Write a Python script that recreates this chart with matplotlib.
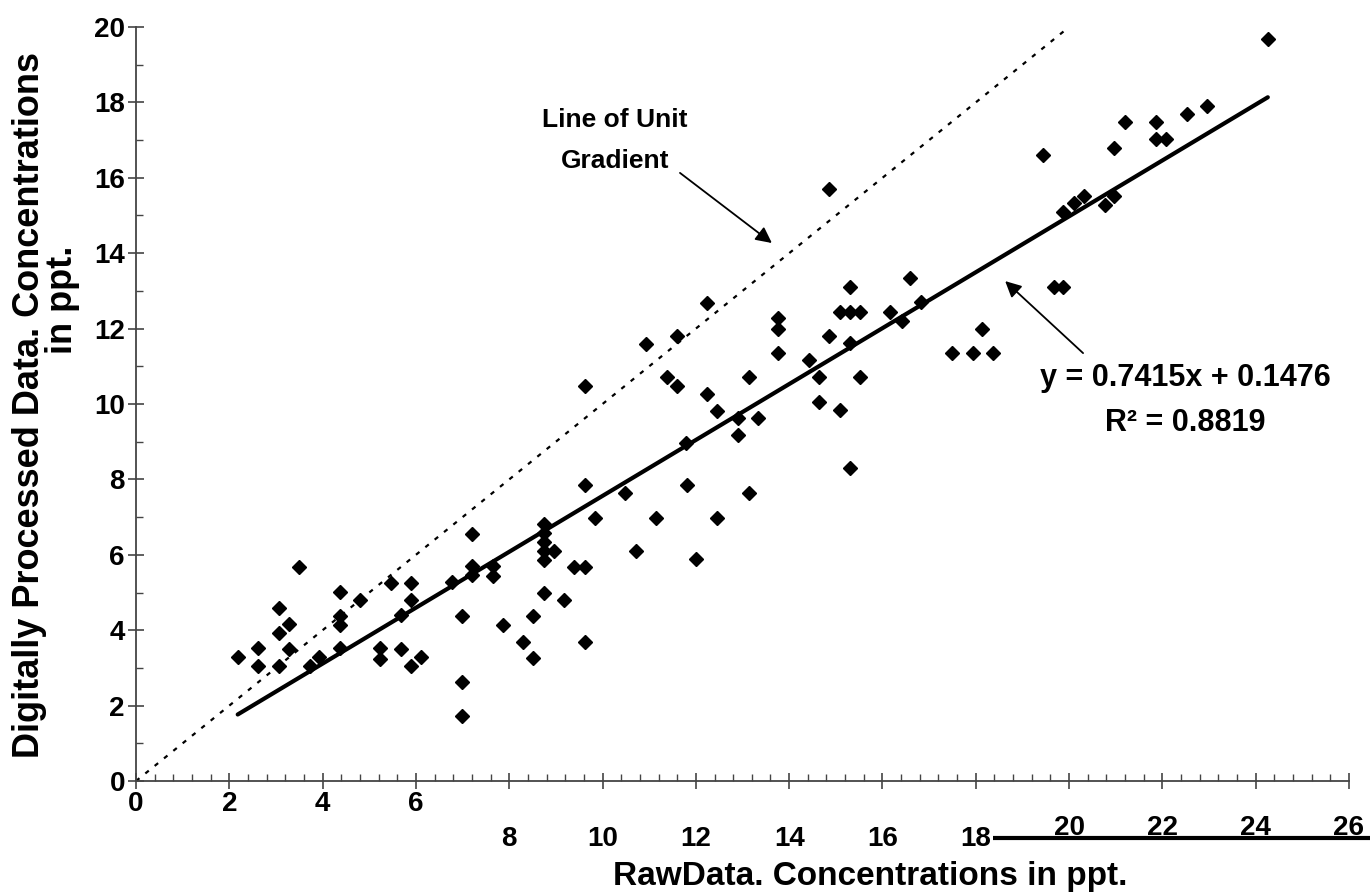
import matplotlib.pyplot as plt
from matplotlib.ticker import MultipleLocator

# raw vs digitally processed concentrations (ppt)
raw_x = [2.18, 2.62, 2.62, 3.06, 3.06, 3.06, 3.29, 3.29, 3.49, 3.72, 3.92,
         4.37, 4.37, 4.37, 4.37, 4.80, 5.24, 5.24, 5.46, 5.67, 5.67, 5.90,
         5.90, 5.90, 6.11, 6.78,
         6.98, 6.98, 6.98, 7.20, 7.20, 7.20, 7.65, 7.65, 7.87, 8.30, 8.52,
         8.52, 8.75, 8.75, 8.75, 8.75, 8.75, 8.96, 8.75, 9.17, 9.39, 9.62,
         9.62, 9.62, 9.84, 10.48, 10.71, 11.15, 11.80, 12.00, 9.62,
         10.93, 11.59, 12.23, 11.38, 11.59, 12.23, 12.45, 11.79, 13.13, 12.91,
         12.91, 13.34, 13.77, 13.77, 13.77, 13.13, 12.45, 14.43, 14.64, 14.64,
         14.86, 15.08, 15.31, 15.08, 15.31, 15.52, 15.31, 15.52, 15.31, 14.85,
         16.60, 16.16, 16.41, 16.82, 18.14, 17.50, 17.93, 18.36, 19.45, 21.20,
         20.97, 21.86, 21.86, 22.07, 22.52, 22.95, 24.26, 19.88, 20.10, 20.33,
         20.76, 20.97, 19.67, 19.88]
proc_y = [3.28, 3.52, 3.06, 4.58, 3.92, 3.06, 4.16, 3.51, 5.68, 3.06, 3.30,
          5.02, 4.38, 4.14, 3.52, 4.80, 3.52, 3.24, 5.24, 4.40, 3.50, 5.24,
          4.80, 3.05, 3.28, 5.27,
          4.38, 2.62, 1.72, 6.54, 5.70, 5.46, 5.70, 5.45, 4.14, 3.70, 4.38,
          3.25, 6.81, 6.57, 6.35, 6.10, 5.86, 6.10, 5.00, 4.80, 5.67, 5.67,
          7.85, 3.70, 6.98, 7.63, 6.10, 6.98, 7.85, 5.89, 10.48,
          11.58, 11.80, 12.67, 10.71, 10.48, 10.26, 9.81, 8.97, 10.71, 9.62,
          9.18, 9.62, 12.27, 12.00, 11.36, 7.63, 6.98, 11.17, 10.71, 10.04,
          11.80, 9.84, 13.11, 12.43, 12.43, 12.43, 11.61, 10.71, 8.29, 15.70,
          13.33, 12.43, 12.20, 12.70, 12.00, 11.36, 11.36, 11.36, 16.60, 17.47,
          16.80, 17.47, 17.04, 17.04, 17.69, 17.90, 19.67, 15.10, 15.32, 15.52,
          15.29, 15.52, 13.11, 13.11]

slope = 0.7415
intercept = 0.1476
r_squared = 0.8819
x_ticks = [0, 2, 4, 6, 8, 10, 12, 14, 16, 18, 20, 22, 24, 26]

plt.rcParams['font.family'] = ['Liberation Sans', 'DejaVu Sans']
plt.rcParams['font.weight'] = 'bold'

fig = plt.figure(figsize=(13.7, 8.96), dpi=100)
ax = fig.add_axes([136 / 1370, 115 / 896, 1213 / 1370, 754 / 896])

# line of unit gradient (dashed) and the fitted trendline
ax.plot([0, 20], [0, 20], color='black', lw=1.6, linestyle=(0, (2.0, 3.4)))
x0, x1 = min(raw_x), max(raw_x)
ax.plot([x0, x1], [slope * x0 + intercept, slope * x1 + intercept],
        color='black', lw=3, solid_capstyle='round')
ax.plot(raw_x, proc_y, linestyle='none', marker='D', ms=7.2,
        color='black', mec='black')

ax.set_xlim(0, 26)
ax.set_ylim(0, 20)
ax.xaxis.set_major_locator(MultipleLocator(2))
ax.xaxis.set_minor_locator(MultipleLocator(0.4))
ax.yaxis.set_major_locator(MultipleLocator(2))
ax.yaxis.set_minor_locator(MultipleLocator(1))
ax.tick_params(which='major', direction='inout', length=12, width=1.2, colors='#444444')
ax.tick_params(which='minor', direction='in', length=5, width=1.0, colors='#444444')
ax.tick_params(axis='y', labelsize=20, labelcolor='black', pad=2)
ax.tick_params(axis='x', labelbottom=False)
for s in ['top', 'right']:
    ax.spines[s].set_visible(False)
for s in ['left', 'bottom']:
    ax.spines[s].set_color('#444444')
    ax.spines[s].set_linewidth(1.3)

# x tick labels sit at three different heights in the original
trans = ax.get_xaxis_transform()
for t in x_ticks:
    if t <= 6:
        yy = -0.031
    elif t <= 18:
        yy = -0.077
    else:
        yy = -0.062
    ax.text(t, yy, str(t), transform=trans, ha='center', va='center',
            fontsize=20, clip_on=False)
ax.plot([18.36, 26.6], [-0.076, -0.076], transform=trans, color='black',
        lw=3, clip_on=False, solid_capstyle='butt')

fig.text(870 / 1370, 1 - 876 / 896, 'RawData. Concentrations in ppt.',
         ha='center', va='center', fontsize=24)
fig.text(30 / 1370, 1 - 405 / 896, 'Digitally Processed Data. Concentrations',
         ha='center', va='center', rotation=90, fontsize=26)
fig.text(63 / 1370, 1 - 300 / 896, 'in ppt.',
         ha='center', va='center', rotation=90, fontsize=26)

# annotations
ax.text(10.27, 16.99, 'Line of Unit\nGradient', ha='center', va='center',
        fontsize=19, linespacing=1.85)
ax.annotate('', xy=(13.63, 14.27), xytext=(11.66, 16.13),
            arrowprops=dict(arrowstyle='-|>', color='black', lw=1.3,
                            mutation_scale=24, shrinkA=0, shrinkB=0))
ax.annotate('', xy=(18.63, 13.26), xytext=(20.3, 11.35),
            arrowprops=dict(arrowstyle='-|>', color='black', lw=1.3,
                            mutation_scale=24, shrinkA=0, shrinkB=0))
ax.text(22.5, 10.69, f'y = {slope}x + {intercept}', ha='center', va='center',
        fontsize=22)
ax.text(22.5, 9.5, f'R² = {r_squared}', ha='center', va='center', fontsize=22)

plt.savefig('out.png', dpi=100)
